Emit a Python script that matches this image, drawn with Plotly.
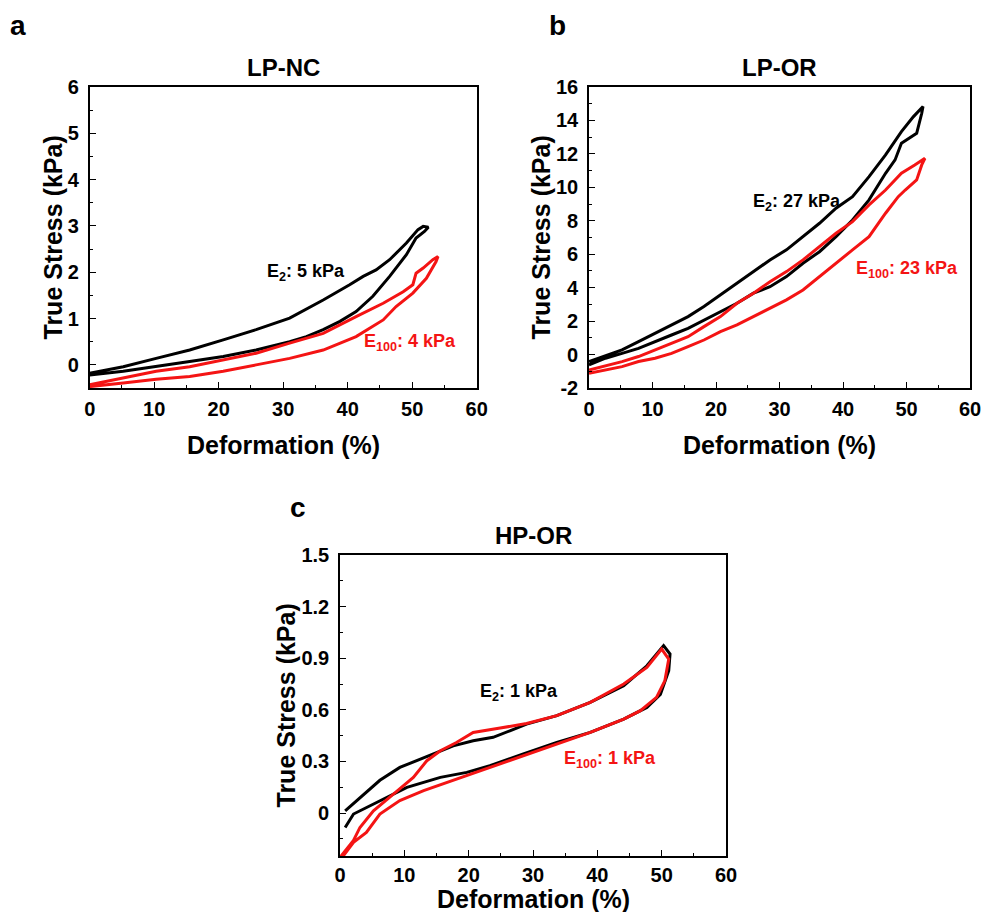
import plotly.graph_objects as go

# ---------------- data ----------------
# Panel a: LP-NC
a_black_up_x = [0, 5.2, 10.3, 15.5, 20.7, 25.8, 31, 36.2, 40.3, 42.4, 44.4, 46.5, 49.1, 50.9, 51.7, 52.5]
a_black_up_y = [-0.18, -0.04, 0.14, 0.32, 0.54, 0.76, 1.01, 1.40, 1.73, 1.91, 2.05, 2.27, 2.63, 2.92, 2.99, 2.97]
a_black_dn_x = [51.9, 50.6, 49.1, 46.5, 43.9, 41.3, 38.8, 36.2, 33.6, 31, 25.8, 20.7, 15.5, 10.3, 5.2, 0]
a_black_dn_y = [2.88, 2.74, 2.38, 1.91, 1.48, 1.15, 0.94, 0.76, 0.61, 0.50, 0.32, 0.18, 0.07, -0.04, -0.14, -0.22]
a_red_up_x = [0, 5.2, 10.3, 15.5, 20.7, 25.8, 31, 36.2, 41.3, 45.5, 48.6, 50.1, 50.6, 51.7, 53.2, 54]
a_red_up_y = [-0.43, -0.29, -0.14, -0.04, 0.11, 0.25, 0.47, 0.68, 1.04, 1.33, 1.58, 1.73, 1.98, 2.09, 2.27, 2.34]
a_red_dn_x = [53.7, 52.2, 50.1, 47.5, 45.5, 41.3, 36.2, 31, 25.8, 20.7, 15.5, 10.3, 5.2, 0]
a_red_dn_y = [2.23, 1.87, 1.55, 1.26, 0.97, 0.61, 0.32, 0.14, 0.0, -0.14, -0.25, -0.31, -0.39, -0.47]

# Panel b: LP-OR
b_black_up_x = [0, 3.1, 5.2, 7.8, 10.4, 13, 15.6, 18.1, 20.7, 23.3, 25.9, 28.5, 31.1, 33.7, 36.3, 38.9, 41.5, 44.1, 46.7, 49.2, 51.1, 52.6]
b_black_up_y = [-0.42, -0.02, 0.28, 0.77, 1.27, 1.77, 2.27, 2.87, 3.56, 4.26, 4.96, 5.66, 6.26, 7.05, 7.85, 8.75, 9.44, 10.64, 11.94, 13.33, 14.23, 14.83]
b_black_dn_x = [52.4, 51.6, 49.2, 48.2, 46.7, 44.1, 41.5, 38.9, 36.3, 33.7, 31.1, 28.5, 25.9, 23.3, 20.7, 18.1, 15.6, 13, 10.4, 7.8, 5.2, 2.6, 0]
b_black_dn_y = [14.43, 13.23, 12.64, 11.64, 10.84, 9.25, 8.05, 7.05, 6.15, 5.46, 4.66, 4.06, 3.67, 3.07, 2.57, 2.07, 1.57, 1.17, 0.77, 0.37, 0.07, -0.22, -0.62]
b_red_up_x = [0, 5.2, 7.8, 10.4, 13, 15.6, 18.1, 20.7, 23.3, 25.9, 28.5, 31.1, 33.7, 36.3, 38.9, 41.5, 44.1, 46.7, 49.2, 51.3, 52.9]
b_red_up_y = [-0.92, -0.42, -0.12, 0.28, 0.67, 1.07, 1.67, 2.27, 3.07, 3.67, 4.36, 4.96, 5.66, 6.45, 7.25, 7.95, 8.95, 9.84, 10.84, 11.34, 11.74]
b_red_dn_x = [52.4, 51.6, 49.8, 48.7, 46.7, 45.6, 44.1, 41.5, 38.9, 36.3, 33.7, 31.1, 28.5, 25.9, 23.3, 20.7, 18.1, 15.6, 13, 10.4, 7.8, 5.2, 2.6, 0]
b_red_dn_y = [11.34, 10.44, 9.84, 9.44, 8.45, 7.85, 7.05, 6.26, 5.46, 4.66, 3.86, 3.27, 2.77, 2.27, 1.77, 1.37, 0.87, 0.47, 0.07, -0.22, -0.42, -0.72, -0.92, -1.12]

# Panel c: HP-OR
c_black_up_x = [0.8, 3.1, 6.2, 9.3, 12.4, 14.5, 17.6, 20.7, 23.8, 26.4, 29, 33.7, 38.9, 44.1, 47.7, 50.3, 51.3]
c_black_up_y = [0.013, 0.09, 0.19, 0.265, 0.31, 0.343, 0.39, 0.42, 0.44, 0.478, 0.517, 0.566, 0.643, 0.74, 0.856, 0.973, 0.924]
c_black_dn_x = [51.1, 49.8, 47.7, 44.1, 38.9, 33.7, 28.5, 23.3, 19.7, 15.6, 10.4, 5.2, 2.1, 0.8]
c_black_dn_y = [0.827, 0.69, 0.614, 0.546, 0.469, 0.41, 0.343, 0.275, 0.236, 0.207, 0.149, 0.052, -0.006, -0.084]
c_red_up_x = [0, 2.1, 3.1, 5.2, 8.3, 11.4, 13.5, 15.6, 18.1, 20.7, 24.9, 29, 33.7, 38.9, 44.1, 47.7, 50]
c_red_up_y = [-0.258, -0.16, -0.084, 0.013, 0.11, 0.207, 0.304, 0.362, 0.41, 0.468, 0.494, 0.52, 0.566, 0.643, 0.75, 0.846, 0.953]
c_red_dn_x = [51.1, 50.5, 49.2, 46.7, 44.1, 38.9, 33.7, 28.5, 23.3, 18.1, 13, 9.3, 6.2, 4.1, 2.1, 0.5]
c_red_dn_y = [0.895, 0.77, 0.672, 0.595, 0.546, 0.469, 0.401, 0.333, 0.265, 0.198, 0.13, 0.072, -0.006, -0.113, -0.17, -0.25]

x_ticks = [0, 10, 20, 30, 40, 50, 60]
x_tick_labels = ["0", "10", "20", "30", "40", "50", "60"]
a_y_ticks = [0, 1, 2, 3, 4, 5, 6]
a_y_tick_labels = ["0", "1", "2", "3", "4", "5", "6"]
b_y_ticks = [-2, 0, 2, 4, 6, 8, 10, 12, 14, 16]
b_y_tick_labels = ["-2", "0", "2", "4", "6", "8", "10", "12", "14", "16"]
c_y_ticks = [0, 0.3, 0.6, 0.9, 1.2, 1.5]
c_y_tick_labels = ["0", "0.3", "0.6", "0.9", "1.2", "1.5"]

titles = ["LP-NC", "LP-OR", "HP-OR"]
letters = ["a", "b", "c"]
e2_labels = ["E<sub>2</sub>: 5 kPa", "E<sub>2</sub>: 27 kPa", "E<sub>2</sub>: 1 kPa"]
e100_labels = ["E<sub>100</sub>: 4 kPa", "E<sub>100</sub>: 23 kPa", "E<sub>100</sub>: 1 kPa"]

# ---------------- figure ----------------
OFF = 8  # page body margin offset
W, H = 989 - 2 * OFF, 920 - 2 * OFF
FONT = "Liberation Sans, Arial, sans-serif"
BLACK = "#000000"
RED = "#f41414"

fig = go.Figure()

panels = [
    ("x", "y", a_black_up_x + a_black_dn_x, a_black_up_y + a_black_dn_y,
     a_red_up_x + a_red_dn_x, a_red_up_y + a_red_dn_y),
    ("x2", "y2", b_black_up_x + b_black_dn_x, b_black_up_y + b_black_dn_y,
     b_red_up_x + b_red_dn_x, b_red_up_y + b_red_dn_y),
    ("x3", "y3", c_black_up_x + c_black_dn_x, c_black_up_y + c_black_dn_y,
     c_red_up_x + c_red_dn_x, c_red_up_y + c_red_dn_y),
]
for xa, ya, bx, by, rx, ry in panels:
    fig.add_trace(go.Scatter(x=bx, y=by, mode="lines", xaxis=xa, yaxis=ya,
                             line=dict(color=BLACK, width=3), showlegend=False))
    fig.add_trace(go.Scatter(x=rx, y=ry, mode="lines", xaxis=xa, yaxis=ya,
                             line=dict(color=RED, width=3), showlegend=False))

# plot-area pixel boxes in screen pixels (left, right, top, bottom)
boxes = [(89.7, 476.7, 87, 388), (589, 970, 87, 388), (340, 726, 555, 856)]
def px2paper_x(px):
    return (px - OFF) / W
def px2paper_y(py):
    return 1 - (py - OFF) / H

tickfont = dict(family=FONT, size=20, color="black", weight="bold")
common_axis = dict(showline=True, linecolor="black", linewidth=1.6, mirror=True,
                   ticks="inside", ticklen=6, tickwidth=1.4, tickcolor="black",
                   showgrid=False, zeroline=False, tickfont=tickfont,
                   ticklabeloverflow="allow")

y_cfg = [
    ([-0.5, 6], a_y_ticks, a_y_tick_labels, 0.5),
    ([-2, 16], b_y_ticks, b_y_tick_labels, 1),
    ([-0.25, 1.5], c_y_ticks, c_y_tick_labels, 0.15),
]
x_standoff = [2, 2, 0]
layout_axes = {}
for i, (box, (yr, yt, ytl, ymin)) in enumerate(zip(boxes, y_cfg)):
    sfx = "" if i == 0 else str(i + 1)
    l, r, t, b = box
    layout_axes["xaxis" + sfx] = dict(
        common_axis, domain=[px2paper_x(l), px2paper_x(r)], range=[0, 60],
        anchor="y" + sfx, tickmode="array", tickvals=x_ticks, ticktext=x_tick_labels,
        ticklabelstandoff=x_standoff[i],
        minor=dict(ticks="inside", ticklen=3, tickwidth=1.2, tickcolor="black", dtick=5, tick0=0, showgrid=False),
    )
    layout_axes["yaxis" + sfx] = dict(
        common_axis, domain=[px2paper_y(b), px2paper_y(t)], range=yr,
        anchor="x" + sfx, tickmode="array", tickvals=yt, ticktext=ytl,
        ticklabelstandoff=5,
        minor=dict(ticks="inside", ticklen=3, tickwidth=1.2, tickcolor="black", dtick=ymin, tick0=0, showgrid=False),
    )

annotations = []
title_font = dict(family=FONT, size=24, color="black")
axis_title_font = dict(family=FONT, size=25, color="black")
letter_pos = [(18, 25), (557, 25), (298, 507)]
title_y = [68, 68, 535]
xtitle_y = [445, 445, 899]
ytitle_x = [52, 540, 285]
for i, box in enumerate(boxes):
    l, r, t, b = box
    cx = (l + r) / 2
    cy = (t + b) / 2
    annotations.append(dict(text="<b>" + titles[i] + "</b>", x=px2paper_x(cx), y=px2paper_y(title_y[i]),
                            xref="paper", yref="paper", showarrow=False, font=title_font,
                            xanchor="center", yanchor="middle"))
    annotations.append(dict(text="<b>" + letters[i] + "</b>", x=px2paper_x(letter_pos[i][0]), y=px2paper_y(letter_pos[i][1]),
                            xref="paper", yref="paper", showarrow=False,
                            font=dict(family=FONT, size=28, color="black"),
                            xanchor="center", yanchor="middle"))
    annotations.append(dict(text="<b>Deformation (%)</b>", x=px2paper_x(cx), y=px2paper_y(xtitle_y[i]),
                            xref="paper", yref="paper", showarrow=False, font=axis_title_font,
                            xanchor="center", yanchor="middle"))
    annotations.append(dict(text="<b>True Stress (kPa)</b>", x=px2paper_x(ytitle_x[i]), y=px2paper_y(cy),
                            xref="paper", yref="paper", showarrow=False, font=axis_title_font,
                            textangle=-90, xanchor="center", yanchor="middle"))

# in-plot labels (data coordinates)
e2_pos = [(27.2, 2.0), (25.5, 9.07), (21.5, 0.70)]
e100_pos = [(42.2, 0.475), (41.7, 5.06), (34.5, 0.31)]
for i in range(3):
    sfx = "" if i == 0 else str(i + 1)
    annotations.append(dict(text="<b>" + e2_labels[i] + "</b>", x=e2_pos[i][0], y=e2_pos[i][1],
                            xref="x" + sfx, yref="y" + sfx, showarrow=False,
                            font=dict(family=FONT, size=18, color=BLACK),
                            xanchor="left", yanchor="middle"))
    annotations.append(dict(text="<b>" + e100_labels[i] + "</b>", x=e100_pos[i][0], y=e100_pos[i][1],
                            xref="x" + sfx, yref="y" + sfx, showarrow=False,
                            font=dict(family=FONT, size=18, color=RED),
                            xanchor="left", yanchor="middle"))

fig.update_layout(
    width=W, height=H, margin=dict(l=0, r=0, t=0, b=0, autoexpand=False),
    paper_bgcolor="white", plot_bgcolor="white",
    font=dict(family=FONT, color="black"),
    annotations=annotations,
    **layout_axes,
)

fig.write_html("out.html")
